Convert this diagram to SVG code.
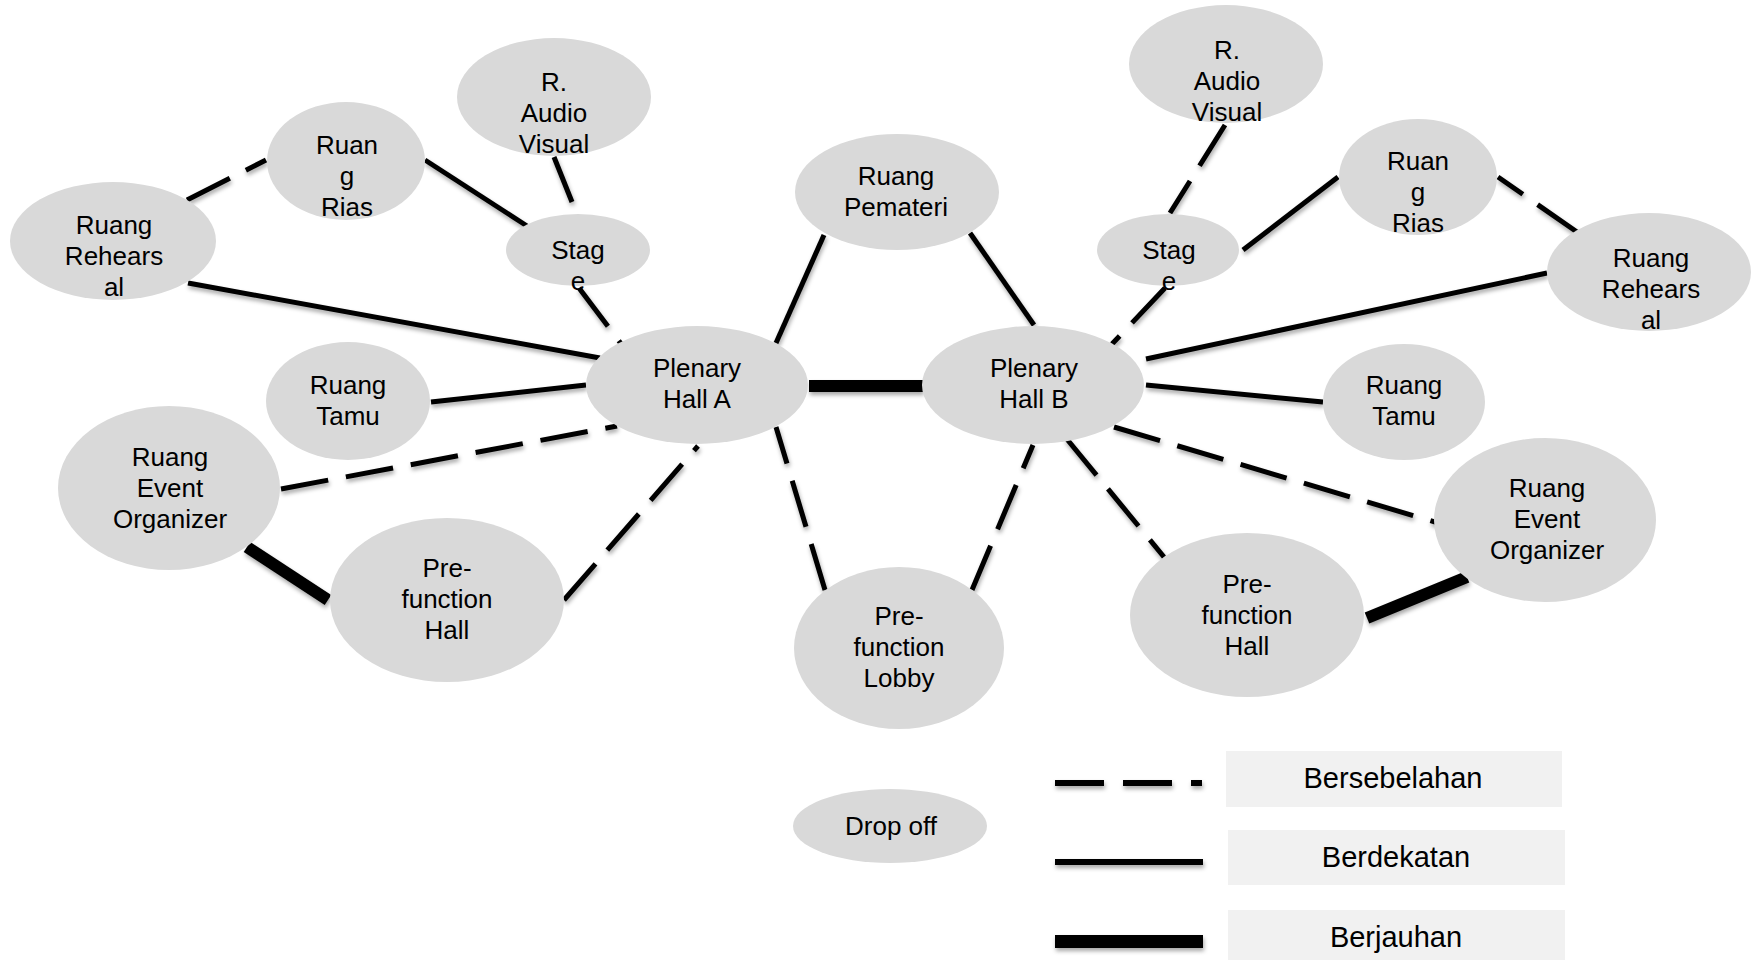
<svg xmlns="http://www.w3.org/2000/svg" width="1759" height="960" viewBox="0 0 1759 960">
<defs>
<filter id="sh" x="-10%" y="-30%" width="120%" height="160%">
<feDropShadow dx="1" dy="3" stdDeviation="2" flood-color="#000" flood-opacity="0.35"/>
</filter>
<style>
.n{fill:#d9d9d9;stroke:none}
.t{font-family:"Liberation Sans",Arial,sans-serif;font-size:26px;fill:#000;text-anchor:middle}
.lt{font-family:"Liberation Sans",Arial,sans-serif;font-size:29px;fill:#000;text-anchor:middle}
.s{stroke:#000;stroke-width:5;fill:none}
.d{stroke:#000;stroke-width:5;fill:none;stroke-dasharray:48 18}
.k{stroke:#000;stroke-width:12;fill:none}
.box{fill:#f1f1f1}
</style>
</defs>
<rect width="1759" height="960" fill="#fff"/>
<g id="connectors" filter="url(#sh)">
<line class="d" x1="187" y1="200" x2="266" y2="160"/>
<line class="s" x1="425" y1="160" x2="527" y2="226"/>
<line class="s" x1="554" y1="157" x2="572" y2="202"/>
<line class="d" x1="579" y1="288" x2="622" y2="345"/>
<line class="s" x1="188" y1="283" x2="600" y2="358"/>
<line class="s" x1="431" y1="402" x2="586" y2="385"/>
<line class="s" x1="824" y1="235" x2="776" y2="343"/>
<line class="k" x1="809" y1="386" x2="923" y2="386"/>
<line class="d" x1="281" y1="489" x2="617" y2="426"/>
<line class="k" x1="247" y1="547" x2="328" y2="600"/>
<line class="d" x1="564" y1="600" x2="698" y2="446"/>
<line class="d" x1="825" y1="590" x2="776" y2="427"/>
<line class="d" x1="972" y1="590" x2="1033" y2="445"/>
<line class="d" x1="1066" y1="438" x2="1164" y2="557"/>
<line class="d" x1="1114" y1="427" x2="1445" y2="525"/>
<line class="k" x1="1367" y1="618" x2="1467" y2="577"/>
<line class="d" x1="1225" y1="125" x2="1170" y2="213"/>
<line class="s" x1="1243" y1="250" x2="1338" y2="177"/>
<line class="d" x1="1577" y1="232" x2="1498" y2="177"/>
<line class="d" x1="1165" y1="288" x2="1112" y2="344"/>
<line class="s" x1="970" y1="233" x2="1034" y2="325"/>
<line class="s" x1="1146" y1="359" x2="1547" y2="273"/>
<line class="s" x1="1146" y1="385" x2="1323" y2="402"/>
</g>
<g id="avL"><ellipse class="n" cx="554" cy="97" rx="97" ry="59"/><text class="t" x="554" y="91">R.</text><text class="t" x="554" y="122">Audio</text><text class="t" x="554" y="153">Visual</text></g>
<g id="riasL"><ellipse class="n" cx="346" cy="161" rx="79" ry="59"/><text class="t" x="347" y="154">Ruan</text><text class="t" x="347" y="185">g</text><text class="t" x="347" y="216">Rias</text></g>
<g id="rehL"><ellipse class="n" cx="113" cy="241" rx="103" ry="59"/><text class="t" x="114" y="234">Ruang</text><text class="t" x="114" y="265">Rehears</text><text class="t" x="114" y="296">al</text></g>
<g id="stageL"><ellipse class="n" cx="578" cy="250" rx="72" ry="36"/><text class="t" x="578" y="259">Stag</text><text class="t" x="578" y="290">e</text></g>
<g id="plA"><ellipse class="n" cx="697" cy="385" rx="111" ry="59"/><text class="t" x="697" y="377">Plenary</text><text class="t" x="697" y="408">Hall A</text></g>
<g id="tamuL"><ellipse class="n" cx="348" cy="401" rx="82" ry="59"/><text class="t" x="348" y="394">Ruang</text><text class="t" x="348" y="425">Tamu</text></g>
<g id="pemateri"><ellipse class="n" cx="897" cy="192" rx="102" ry="58"/><text class="t" x="896" y="185">Ruang</text><text class="t" x="896" y="216">Pemateri</text></g>
<g id="eoL"><ellipse class="n" cx="169" cy="488" rx="111" ry="82"/><text class="t" x="170" y="466">Ruang</text><text class="t" x="170" y="497">Event</text><text class="t" x="170" y="528">Organizer</text></g>
<g id="pfhL"><ellipse class="n" cx="447" cy="600" rx="117" ry="82"/><text class="t" x="447" y="577">Pre-</text><text class="t" x="447" y="608">function</text><text class="t" x="447" y="639">Hall</text></g>
<g id="lobby"><ellipse class="n" cx="899" cy="648" rx="105" ry="81"/><text class="t" x="899" y="625">Pre-</text><text class="t" x="899" y="656">function</text><text class="t" x="899" y="687">Lobby</text></g>
<g id="avR"><ellipse class="n" cx="1226" cy="64" rx="97" ry="59"/><text class="t" x="1227" y="59">R.</text><text class="t" x="1227" y="90">Audio</text><text class="t" x="1227" y="121">Visual</text></g>
<g id="riasR"><ellipse class="n" cx="1418" cy="177" rx="79" ry="58"/><text class="t" x="1418" y="170">Ruan</text><text class="t" x="1418" y="201">g</text><text class="t" x="1418" y="232">Rias</text></g>
<g id="stageR"><ellipse class="n" cx="1168" cy="250" rx="71" ry="36"/><text class="t" x="1169" y="259">Stag</text><text class="t" x="1169" y="290">e</text></g>
<g id="rehR"><ellipse class="n" cx="1649" cy="272" rx="102" ry="59"/><text class="t" x="1651" y="267">Ruang</text><text class="t" x="1651" y="298">Rehears</text><text class="t" x="1651" y="329">al</text></g>
<g id="plB"><ellipse class="n" cx="1033" cy="385" rx="111" ry="59"/><text class="t" x="1034" y="377">Plenary</text><text class="t" x="1034" y="408">Hall B</text></g>
<g id="tamuR"><ellipse class="n" cx="1404" cy="402" rx="81" ry="58"/><text class="t" x="1404" y="394">Ruang</text><text class="t" x="1404" y="425">Tamu</text></g>
<g id="eoR"><ellipse class="n" cx="1545" cy="520" rx="111" ry="82"/><text class="t" x="1547" y="497">Ruang</text><text class="t" x="1547" y="528">Event</text><text class="t" x="1547" y="559">Organizer</text></g>
<g id="pfhR"><ellipse class="n" cx="1247" cy="615" rx="117" ry="82"/><text class="t" x="1247" y="593">Pre-</text><text class="t" x="1247" y="624">function</text><text class="t" x="1247" y="655">Hall</text></g>
<g id="dropoff"><ellipse class="n" cx="890" cy="826" rx="97" ry="37"/><text class="t" x="891" y="835">Drop off</text></g>
<g id="legend">
<g filter="url(#sh)">
<line stroke="#000" stroke-width="6" stroke-dasharray="49 19" x1="1055" y1="783" x2="1202" y2="783"/>
<line stroke="#000" stroke-width="6" x1="1055" y1="862" x2="1203" y2="862"/>
<line stroke="#000" stroke-width="13" x1="1055" y1="941.5" x2="1203" y2="941.5"/>
</g>
<rect class="box" x="1226" y="751" width="336" height="56"/>
<text class="lt" x="1393" y="788">Bersebelahan</text>
<rect class="box" x="1228" y="830" width="337" height="55"/>
<text class="lt" x="1396" y="867">Berdekatan</text>
<rect class="box" x="1228" y="910" width="337" height="52"/>
<text class="lt" x="1396" y="947">Berjauhan</text>
</g>
</svg>
